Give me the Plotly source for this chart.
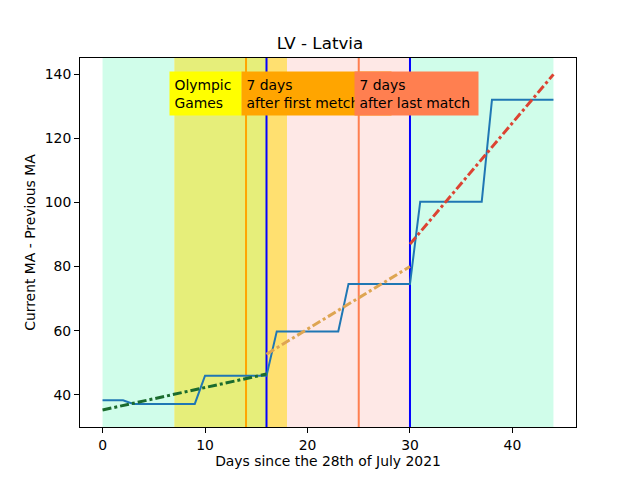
import plotly.graph_objects as go

# daily MA difference, days 0..44
days = list(range(45))
ma_diff = ([38.3] * 3 + [37.2] * 7 + [46.0] * 7 + [59.8] * 7 +
           [74.6] * 7 + [100.2] * 7 + [132.0] * 7)

# trend line endpoints
trend_pre_x, trend_pre_y = [0, 16], [35.3, 46.5]
trend_mid_x, trend_mid_y = [16, 30], [52.7, 80.0]
trend_post_x, trend_post_y = [30, 44], [87.0, 139.9]

# background periods (start, end, colour)
periods = [
    (0, 7, '#d0fdea'),
    (7, 16, '#e6ee7a'),
    (16, 18, '#ffe070'),
    (18, 30, '#fee8e6'),
    (30, 44, '#d0fdea'),
]
# vertical markers (x, colour)
vlines = [(14, '#ffa500'), (16, '#0000ff'), (25, '#ff7f50'), (30, '#0000ff')]
# labels (x, text, box colour, box width)
labels = [
    (7, 'Olympic<br>Games', '#ffff00', 62),
    (14, '7 days<br>after first metch', '#ffa500', 140),
    (25, '7 days<br>after last match', '#ff7f50', 114),
]

fig = go.Figure()

for x0, x1, col in periods:
    fig.add_shape(type='rect', xref='x', yref='paper', x0=x0, x1=x1, y0=0, y1=1,
                  fillcolor=col, line_width=0, layer='below')
for xv, col in vlines:
    fig.add_shape(type='line', xref='x', yref='paper', x0=xv, x1=xv, y0=0, y1=1,
                  line=dict(color=col, width=2), layer='below')

fig.add_trace(go.Scatter(x=days, y=ma_diff, mode='lines',
                         line=dict(color='#1f77b4', width=2)))
fig.add_trace(go.Scatter(x=trend_pre_x, y=trend_pre_y, mode='lines',
                         line=dict(color='#1b6b2e', width=3, dash='dashdot')))
fig.add_trace(go.Scatter(x=trend_mid_x, y=trend_mid_y, mode='lines',
                         line=dict(color='#dea552', width=3, dash='dashdot')))
fig.add_trace(go.Scatter(x=trend_post_x, y=trend_post_y, mode='lines',
                         line=dict(color='#dc4332', width=3, dash='dashdot')))

for xv, txt, col, w in labels:
    fig.add_annotation(x=xv, y=140.9, xref='x', yref='y', text=txt, showarrow=False,
                       xanchor='left', yanchor='top', align='left', xshift=-5,
                       bgcolor=col, borderpad=4.5, width=w,
                       font=dict(size=13.9, color='black'))

axis_style = dict(showline=True, linecolor='black', linewidth=1, mirror=True,
                  ticks='outside', ticklen=5, tickcolor='black', showgrid=False,
                  zeroline=False, tickfont=dict(size=13.9), automargin=False)

fig.update_layout(
    width=640, height=480,
    margin=dict(l=80, r=64, t=58, b=53),
    paper_bgcolor='white', plot_bgcolor='white',
    showlegend=False,
    font=dict(family='DejaVu Sans', color='black'),
    title=dict(text='LV - Latvia', x=0.5, xanchor='center', y=1 - 43 / 480,
               yanchor='middle', font=dict(size=16.7), automargin=False),
    xaxis=dict(range=[-2.2, 46.2], tickvals=[0, 10, 20, 30, 40],
               title=dict(text='Days since the 28th of July 2021', font=dict(size=13.9),
                          standoff=4), **axis_style),
    yaxis=dict(range=[30, 145], tickvals=[40, 60, 80, 100, 120, 140],
               title=dict(text='Current MA - Previous MA', font=dict(size=13.9),
                          standoff=5), **axis_style),
)

# the page's default body margin would push the figure 8px right and down
fig.write_html("out.html", config={'displayModeBar': False},
               post_script="document.body.style.margin='0';")
